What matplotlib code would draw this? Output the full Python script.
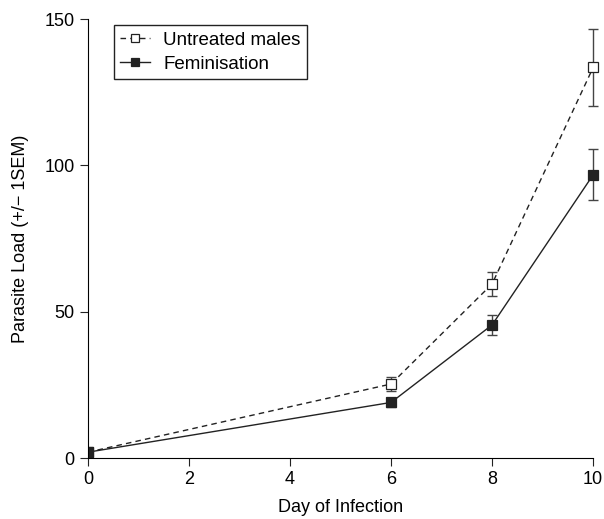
import matplotlib
matplotlib.use("Agg")
import matplotlib.pyplot as plt
from matplotlib.patches import Rectangle
import numpy as np

plt.rcParams["font.family"] = ["Liberation Sans", "DejaVu Sans"]

# Data
days = [0, 6, 8, 10]
untreated = [2, 25.3, 59.5, 133.5]
untreated_sem = [0.5, 2.5, 4.0, 13.0]
feminised = [2, 19, 45.5, 96.8]
feminised_sem = [0.5, 1.5, 3.5, 8.7]

fig = plt.figure(figsize=(6.04, 5.19), dpi=100)
ax = fig.add_axes([0.1457, 0.1175, 0.8363, 0.8455])

# clip only on the left side, let the last points spill over the right edge
clip = Rectangle((0, -0.05), 1.1, 1.1, transform=ax.transAxes, visible=False)
ax.add_patch(clip)

series = [
    (untreated, untreated_sem, "--", "white", "Untreated males"),
    (feminised, feminised_sem, "-", "#222222", "Feminisation"),
]
handles = []
for values, sem, style, face, name in series:
    cont = ax.errorbar(days, values, yerr=sem, fmt="none", ecolor="#444444",
                       elinewidth=1.0, capsize=3.5, capthick=1.0)
    line, = ax.plot(days, values, color="#222222", linestyle=style,
                    linewidth=1.0, marker="s", markersize=7,
                    markerfacecolor=face, markeredgecolor="#222222",
                    markeredgewidth=0.9, label=name)
    if style == "--":
        line.set_dashes((4, 3))
    for art in [line] + list(cont.lines[1]) + list(cont.lines[2]):
        art.set_clip_path(clip)
    handles.append(line)

ax.set_xlim(0, 10)
ax.set_ylim(0, 150)
ax.set_xticks([0, 2, 4, 6, 8, 10])
ax.set_yticks([0, 50, 100, 150])
ax.spines["top"].set_visible(False)
ax.spines["right"].set_visible(False)
ax.tick_params(direction="out", length=6, labelsize=13, color="#222222")
ax.set_xlabel("Day of Infection", fontsize=13, labelpad=8)
ax.set_ylabel("Parasite Load (+/\u2212 1SEM)", fontsize=13, labelpad=11)

leg = ax.legend(handles=handles, loc="upper left", bbox_to_anchor=(0.051, 0.986),
                borderaxespad=0, fontsize=13.5, fancybox=False,
                edgecolor="#222222", framealpha=1,
                handlelength=1.6, handletextpad=0.7, borderpad=0.35,
                labelspacing=0.35, markerscale=0.85)
leg.get_frame().set_linewidth(1.0)

fig.savefig("out.png", dpi=100)
